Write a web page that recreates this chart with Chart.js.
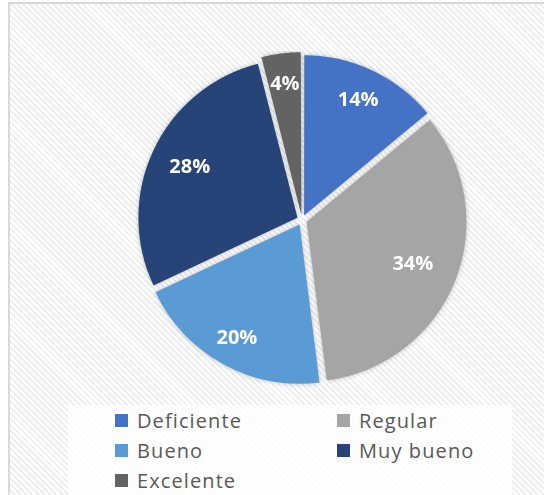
<!DOCTYPE html>
<html>
<head>
<meta charset="utf-8">
<script src="https://cdn.jsdelivr.net/npm/chart.js@4/dist/chart.umd.min.js"></script>
<style>
  html, body { margin: 0; padding: 0; background: #fff; width: 544px; height: 495px; overflow: hidden; }
  #frame {
    position: absolute; left: 8px; top: 2px; width: 560px; height: 520px;
    border: 2px solid #d9d9d9;
    background: repeating-linear-gradient(45deg, #ffffff 0px, #ffffff 2.2px, #efefef 2.2px, #efefef 4.2px);
  }
  #pieBox { position: absolute; left: 133px; top: 51px; width: 338px; height: 338px; }
  #legendBox {
    position: absolute; left: 68px; top: 405px; width: 444px; height: 100px;
    background: rgba(255,255,255,0.8);
  }
  #legend {
    position: absolute; left: 115px; top: 405px;
    display: grid; grid-template-columns: 222px 222px; grid-auto-rows: 30px;
    font-family: "Open Sans", sans-serif; font-size: 20px; color: #595959; letter-spacing: 1.1px;
  }
  .item { display: flex; align-items: center; white-space: nowrap; }
  .sw { width: 13px; height: 13px; margin-right: 9px; flex: none; }
</style>
</head>
<body>
<div id="frame"></div>
<div id="legendBox"></div>
<div id="pieBox"><canvas id="pie"></canvas></div>
<div id="legend"></div>
<script>
// 数据
const categories = ['Deficiente', 'Regular', 'Bueno', 'Muy bueno', 'Excelente'];
const percentages = [14, 34, 20, 28, 4];
const colors = ['#4472C4', '#A5A5A5', '#5B9BD5', '#264478', '#636363'];

// 标签离圆心的比例（样式）
const labelRadius = [0.83, 0.75, 0.85, 0.78, 0.86];

// 白色百分比标签
const pctLabels = {
    id: 'pctLabels',
    afterDatasetsDraw(chart) {
        const ctx = chart.ctx;
        const meta = chart.getDatasetMeta(0);
        ctx.save();
        ctx.fillStyle = '#ffffff';
        ctx.font = 'bold 20px "Open Sans", sans-serif';
        ctx.textAlign = 'center';
        ctx.textBaseline = 'middle';
        meta.data.forEach((arc, i) => {
            const p = arc.getProps(['x', 'y', 'startAngle', 'endAngle', 'outerRadius'], true);
            const mid = (p.startAngle + p.endAngle) / 2;
            const r = p.outerRadius * labelRadius[i];
            ctx.fillText(percentages[i] + '%', p.x + Math.cos(mid) * r, p.y + Math.sin(mid) * r);
        });
        ctx.restore();
    }
};

// 饼图淡阴影
const pieShadow = {
    id: 'pieShadow',
    beforeDatasetsDraw(chart) {
        chart.ctx.save();
        chart.ctx.shadowColor = 'rgba(0,0,0,0.25)';
        chart.ctx.shadowBlur = 5;
    },
    afterDatasetsDraw(chart) {
        chart.ctx.restore();
    }
};

new Chart(document.getElementById('pie'), {
    type: 'pie',
    data: {
        labels: categories,
        datasets: [{
            data: percentages,
            backgroundColor: colors,
            borderWidth: 0,
            offset: 20 // 扇区分离
        }]
    },
    options: {
        responsive: true,
        maintainAspectRatio: false,
        animation: false,
        layout: { padding: 0 },
        plugins: { legend: { display: false }, tooltip: { enabled: false } }
    },
    plugins: [pieShadow, pctLabels]
});

// 图例
const legend = document.getElementById('legend');
categories.forEach((c, i) => {
    const d = document.createElement('div');
    d.className = 'item';
    d.innerHTML = '<span class="sw" style="background:' + colors[i] + '"></span><span>' + c + '</span>';
    legend.appendChild(d);
});
</script>
</body>
</html>
